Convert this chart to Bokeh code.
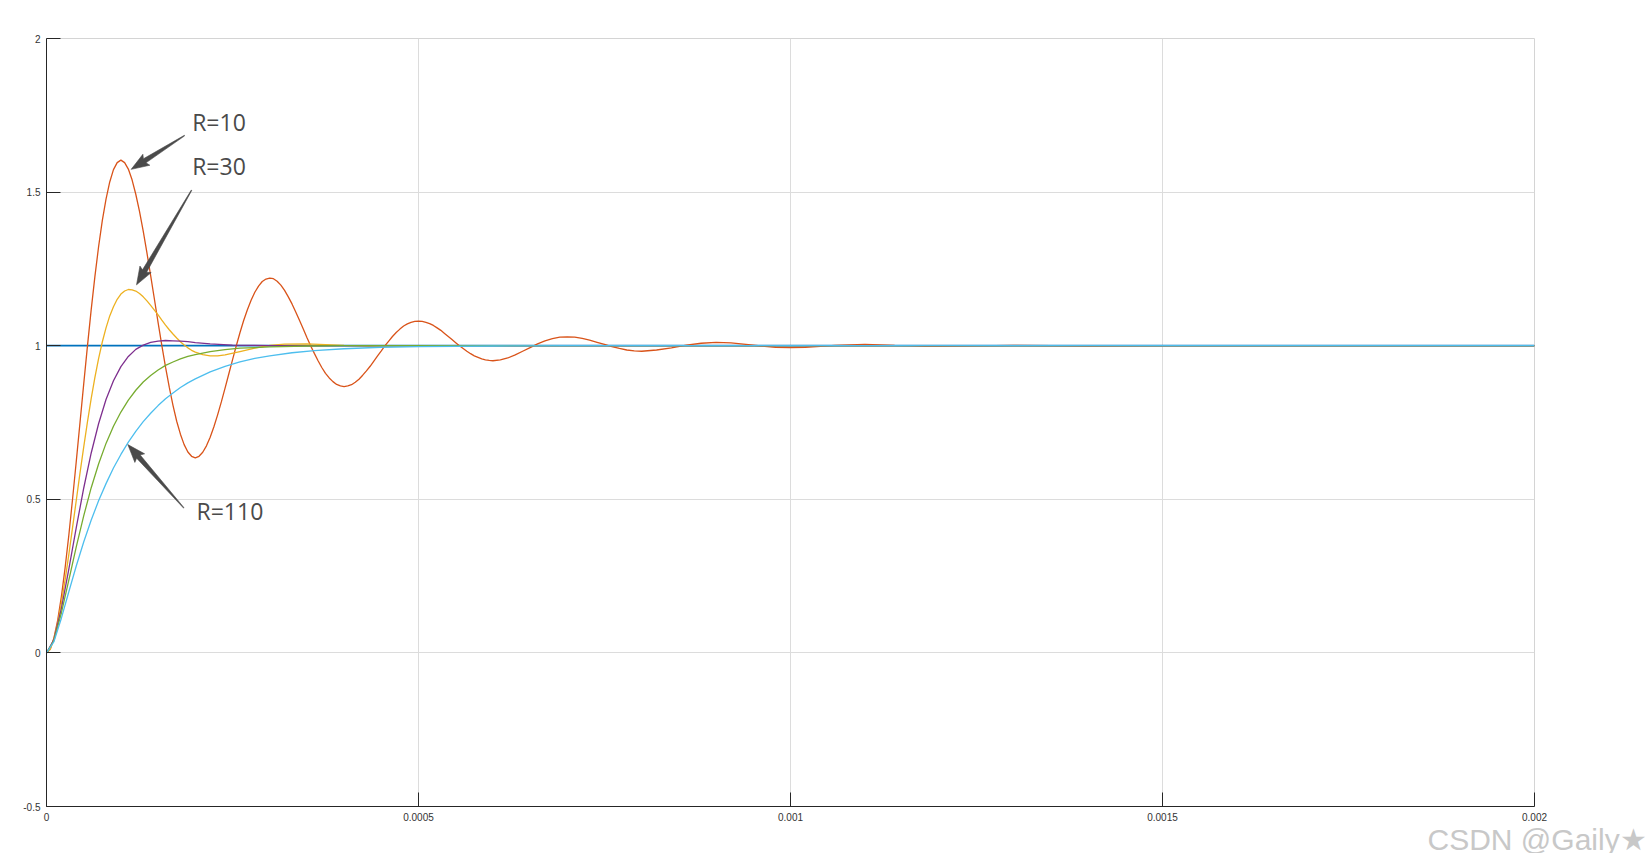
import math
from bokeh.plotting import figure
from bokeh.models import Range1d, FixedTicker, Title
from bokeh.embed import file_html
from bokeh.resources import INLINE
from bokeh.core.properties import value

# ---------------- data (time in microseconds) -------------
T_STEP = [0, 2000]
Y_STEP = [1.0, 1.0]

T_R10 = list(range(0, 605, 5)) + list(range(610, 810, 10)) + list(range(820, 1220, 20)) + [1300, 1400, 1500, 2000]
Y_R10 = [0.000, 0.012, 0.049, 0.106, 0.183, 0.277, 0.383, 0.500, 0.623, 0.749,
         0.875, 0.998, 1.116, 1.224, 1.322, 1.407, 1.477, 1.533, 1.573, 1.596,
         1.604, 1.596, 1.575, 1.540, 1.493, 1.437, 1.373, 1.302, 1.228, 1.152,
         1.075, 1.001, 0.930, 0.865, 0.806, 0.754, 0.712, 0.678, 0.654, 0.640,
         0.635, 0.640, 0.653, 0.674, 0.702, 0.736, 0.775, 0.817, 0.862, 0.908,
         0.954, 0.999, 1.042, 1.082, 1.117, 1.148, 1.174, 1.194, 1.209, 1.217,
         1.220, 1.218, 1.210, 1.197, 1.180, 1.159, 1.136, 1.110, 1.083, 1.055,
         1.027, 1.000, 0.975, 0.951, 0.929, 0.910, 0.895, 0.883, 0.874, 0.869,
         0.867, 0.869, 0.873, 0.881, 0.891, 0.904, 0.918, 0.933, 0.950, 0.967,
         0.983, 1.000, 1.015, 1.030, 1.043, 1.054, 1.064, 1.071, 1.076, 1.079,
         1.080, 1.079, 1.076, 1.072, 1.066, 1.058, 1.050, 1.040, 1.030, 1.020,
         1.010, 1.000, 0.991, 0.982, 0.974, 0.967, 0.962, 0.957, 0.954, 0.952,
         0.951,
         0.954, 0.960, 0.970, 0.982, 0.994, 1.006, 1.016, 1.023, 1.028, 1.029,
         1.028, 1.024, 1.018, 1.011, 1.004, 0.997, 0.991, 0.986, 0.983, 0.982,
         0.986, 0.993, 1.002, 1.008, 1.011, 1.009, 1.004, 0.999, 0.995, 0.994,
         0.995, 0.998, 1.001, 1.003, 1.004, 1.003, 1.001, 1.000, 0.998, 0.998,
         1.001, 0.999, 1.000, 1.000]

T_R30 = list(range(0, 205, 5)) + [210, 220, 230, 240, 260, 280, 300, 320, 350, 400, 450, 500, 2000]
Y_R30 = [0.000, 0.012, 0.046, 0.097, 0.162, 0.238, 0.320, 0.408, 0.496, 0.585,
         0.670, 0.751, 0.827, 0.896, 0.958, 1.012, 1.058, 1.097, 1.127, 1.151,
         1.168, 1.178, 1.183, 1.182, 1.178, 1.170, 1.159, 1.146, 1.131, 1.116,
         1.100, 1.083, 1.067, 1.052, 1.038, 1.025, 1.013, 1.002, 0.993, 0.985,
         0.979,
         0.971, 0.967, 0.967, 0.970, 0.981, 0.992, 1.001, 1.005, 1.006, 1.001,
         0.999, 1.000, 1.000]

T_R50 = list(range(0, 210, 10)) + [220, 250, 300, 350, 2000]
Y_R50 = [0.000, 0.043, 0.144, 0.273, 0.408, 0.536, 0.650, 0.746, 0.825, 0.886,
         0.932, 0.965, 0.988, 1.002, 1.011, 1.015, 1.017, 1.016, 1.015, 1.013,
         1.010, 1.006, 1.002, 1.000, 1.000, 1.000]

T_R70 = list(range(0, 210, 10)) + [220, 240, 260, 280, 300, 350, 400, 500, 2000]
Y_R70 = [0.000, 0.040, 0.130, 0.237, 0.345, 0.446, 0.537, 0.615, 0.682, 0.738,
         0.784, 0.823, 0.855, 0.882, 0.903, 0.921, 0.936, 0.947, 0.957, 0.965,
         0.971, 0.981, 0.987, 0.992, 0.994, 0.996, 0.999, 1.000, 1.000, 1.000]

T_R110 = list(range(0, 210, 10)) + [220, 240, 260, 280, 300, 330, 360, 400, 450, 500, 600, 700, 2000]
Y_R110 = [0.000, 0.037, 0.113, 0.199, 0.283, 0.361, 0.432, 0.495, 0.551, 0.602,
          0.646, 0.686, 0.721, 0.753, 0.780, 0.805, 0.827, 0.846, 0.864, 0.879,
          0.892, 0.915, 0.933, 0.947, 0.959, 0.967, 0.977, 0.984, 0.990, 0.995,
          0.997, 0.999, 1.000, 1.000]

X_TICKS = [0, 0.0005, 0.001, 0.0015, 0.002]
X_LABELS = ["0", "0.0005", "0.001", "0.0015", "0.002"]
Y_TICKS = [-0.5, 0, 0.5, 1, 1.5, 2]
Y_LABELS = ["-0.5", "0", "0.5", "1", "1.5", "2"]

# annotations: (text, x, y) and arrows (tail x, tail y, tip x, tip y) in data units
NOTE_TEXT = ["R=10", "R=30", "R=110"]
NOTE_X = [1.958e-4, 1.958e-4, 2.016e-4]
NOTE_Y = [1.727, 1.586, 0.463]
ARROWS = [(1.855e-4, 1.684, 1.138e-4, 1.574),
          (1.949e-4, 1.506, 1.210e-4, 1.198),
          (1.845e-4, 0.472, 1.093e-4, 0.678)]
WATERMARK = "CSDN @Gaily★"

COLORS = {"step": "#0072BD", "r10": "#D95319", "r30": "#EDB120",
          "r50": "#7E2F8E", "r70": "#77AC30", "r110": "#4DBEEE"}

# ---------------- figure -------------------------------------------------------------
FW, FH = 1488, 768
XMIN, XMAX, YMIN, YMAX = 0.0, 0.002, -0.5, 2.0
BL, BT = 46, 38

p = figure(frame_width=FW, frame_height=FH,
           min_border_left=BL, min_border_top=BT, min_border_right=1650 - BL - FW,
           min_border_bottom=20,
           x_range=Range1d(XMIN, XMAX), y_range=Range1d(YMIN, YMAX),
           output_backend="svg", toolbar_location=None)
p.background_fill_color = "white"
p.border_fill_color = "white"
p.outline_line_color = "#d4d4d4"
p.outline_line_width = 1

for ax, ticks, labels in ((p.xaxis, X_TICKS, X_LABELS), (p.yaxis, Y_TICKS, Y_LABELS)):
    ax.ticker = FixedTicker(ticks=ticks)
    ax.major_label_overrides = {t: l for t, l in zip(ticks, labels)}
    ax.axis_line_color = "#262626"
    ax.axis_line_width = 1
    ax.major_tick_line_color = "#262626"
    ax.major_tick_in = 14
    ax.major_tick_out = 0
    ax.minor_tick_line_color = None
    ax.major_label_text_font = "Liberation Sans"
    ax.major_label_text_font_size = "10px"
    ax.major_label_text_color = "#333333"
    ax.major_label_standoff = 6

p.xgrid.ticker = FixedTicker(ticks=X_TICKS)
p.ygrid.ticker = FixedTicker(ticks=Y_TICKS)
p.grid.grid_line_color = "#dcdcdc"
p.grid.grid_line_width = 1

us = 1e-6
p.line([t * us for t in T_STEP], Y_STEP, line_color=COLORS["step"], line_width=1.8)
p.line([t * us for t in T_R10], Y_R10, line_color=COLORS["r10"], line_width=1.3)
p.line([t * us for t in T_R30], Y_R30, line_color=COLORS["r30"], line_width=1.3)
p.line([t * us for t in T_R50], Y_R50, line_color=COLORS["r50"], line_width=1.3)
p.line([t * us for t in T_R70], Y_R70, line_color=COLORS["r70"], line_width=1.3)
p.line([t * us for t in T_R110], Y_R110, line_color=COLORS["r110"], line_width=1.3)

# tapered arrows (built in pixel space, converted back to data units)
SX = FW / (XMAX - XMIN)
SY = FH / (YMAX - YMIN)
for (x0, y0, x1, y1) in ARROWS:
    X0, Y0, X1, Y1 = x0 * SX, y0 * SY, x1 * SX, y1 * SY
    dx, dy = X1 - X0, Y1 - Y0
    L = math.hypot(dx, dy)
    ux, uy = dx / L, dy / L
    nx, ny = -uy, ux
    head_len, head_hw, shaft_hw, tail_hw = 16.0, 6.5, 2.4, 0.3
    bx, by = X1 - ux * head_len, Y1 - uy * head_len
    pts = [(X0 + nx * tail_hw, Y0 + ny * tail_hw),
           (bx + nx * shaft_hw, by + ny * shaft_hw),
           (bx - ux * 2 + nx * head_hw, by - uy * 2 + ny * head_hw),
           (X1, Y1),
           (bx - ux * 2 - nx * head_hw, by - uy * 2 - ny * head_hw),
           (bx - nx * shaft_hw, by - ny * shaft_hw),
           (X0 - nx * tail_hw, Y0 - ny * tail_hw)]
    p.patch([q[0] / SX for q in pts], [q[1] / SY for q in pts],
            fill_color="#4a4a4a", line_color="#4a4a4a", line_width=0.6)

p.text(x=NOTE_X, y=NOTE_Y, text=NOTE_TEXT, text_font=value("Open Sans"),
       text_font_size="23px", text_color="#4a4a4a",
       text_align="left", text_baseline="alphabetic")

wm = Title(text=WATERMARK, align="left", offset=1427 - BL, standoff=-5,
           text_font="Liberation Sans", text_font_size="30px",
           text_font_style="normal", text_color="#c8c8c8")
p.add_layout(wm, "below")

open("out.html", "w").write(file_html(p, INLINE))
